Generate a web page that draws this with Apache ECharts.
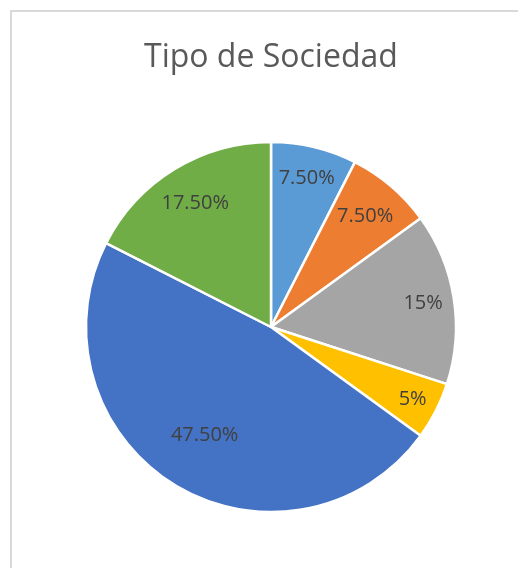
<!DOCTYPE html>
<html><head><meta charset="utf-8">
<script src="https://cdn.jsdelivr.net/npm/echarts@6/dist/echarts.min.js"></script>
<style>html,body{margin:0;padding:0;background:#fff;}#c{width:518px;height:568px;}</style>
</head><body><div id="c"></div>
<script>
const title = 'Tipo de Sociedad';
const categories = ['Tipo 1', 'Tipo 2', 'Tipo 3', 'Tipo 4', 'Tipo 5', 'Tipo 6'];
const values = [7.5, 7.5, 15, 5, 47.5, 17.5];
const colors = ['#5B9BD5', '#ED7D31', '#A5A5A5', '#FFC000', '#4472C4', '#70AD47'];
// label distance from centre, as used by the original chart (style)
const labelRadius = [150, 142, 151, 156, 124, 142];

function fmt(v){ return Number.isInteger(v) ? v + '%' : v.toFixed(2) + '%'; }

const total = values.reduce((a,b)=>a+b,0);
const baseR = 145;
let cum = 0;
const labelData = categories.map((n,i)=>{
  const th = 2*Math.PI*(cum + values[i]/2)/total;
  cum += values[i];
  const d = labelRadius[i] - baseR;
  return {name:n, value:values[i], label:{offset:[d*Math.sin(th), -d*Math.cos(th)]}};
});

const chart = echarts.init(document.getElementById('c'), null, {renderer:'canvas'});
const data = categories.map((n,i)=>({name:n, value:values[i], itemStyle:{color:colors[i]}}));
chart.setOption({
  animation:false,
  graphic:[{type:'rect', shape:{x:11, y:11, width:560, height:600}, style:{fill:'none', stroke:'#d9d9d9', lineWidth:2}, silent:true}],
  title:{text:title, left:139, top:37,
    textStyle:{fontFamily:'Open Sans', fontWeight:'normal', fontSize:32, color:'#595959'}},
  series:[
    {type:'pie', center:[271,327], radius:[0,185], startAngle:90, clockwise:true,
      data:data, label:{show:false}, labelLine:{show:false},
      itemStyle:{borderColor:'#fff', borderWidth:2.5}},
    {type:'pie', center:[271,327], radius:[100,190], startAngle:90, clockwise:true, silent:true,
      data:labelData,
      itemStyle:{color:'rgba(0,0,0,0)'},
      label:{show:true, position:'inside', formatter:p=>fmt(p.value),
        fontFamily:'Open Sans', fontSize:20, color:'#404040'},
      labelLine:{show:false}}
  ]
});
</script></body></html>
